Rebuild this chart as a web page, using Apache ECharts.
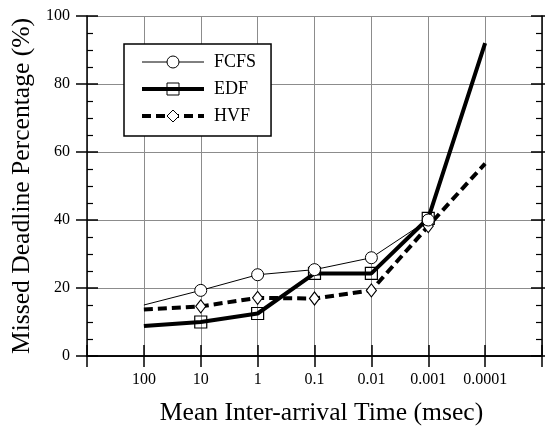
<!DOCTYPE html>
<html>
<head>
<meta charset="utf-8">
<script src="https://cdn.jsdelivr.net/npm/echarts@6/dist/echarts.min.js"></script>
<style>
  html, body { margin: 0; padding: 0; background: #fff; }
  #chart { width: 545px; height: 430px; }
</style>
</head>
<body>
<div id="chart"></div>
<script>
// x slots: empty padding slot at each end, like the original plot
const categories = ['', '100', '10', '1', '0.1', '0.01', '0.001', '0.0001', '']
const fcfs = [15, 19.3, 23.9, 25.4, 28.9, 40]
const edf = [8.8, 10, 12.5, 24.3, 24.3, 40.5, 92]
const hvf = [13.7, 14.6, 17.1, 16.9, 19.3, 38.2, 56.6]
const yTicks = [0, 20, 40, 60, 80, 100]

const FONT = 'Liberation Serif'
const GRID_GRAY = '#8c8c8c'

// first and last points are drawn without a marker
function toPoints(values) {
  return values.map((v, i) => ({
    value: [i + 1, v],
    symbol: i === 0 || i === 6 ? 'none' : undefined
  }))
}

const chart = echarts.init(document.getElementById('chart'))

const axisLine = { show: true, lineStyle: { color: '#000', width: 1.5 } }
const noLine = { show: false }

function xAxis(position, inside, main) {
  return {
    type: 'category',
    position,
    data: categories,
    boundaryGap: false,
    axisLine: main ? axisLine : noLine,
    axisTick: { show: true, inside, length: 11, interval: 0, lineStyle: { color: '#000', width: 1.5 } },
    axisLabel: main && position === 'bottom'
      ? { show: true, interval: 0, margin: 16, fontFamily: FONT, fontSize: 16, color: '#000' }
      : { show: false },
    splitLine: main && position === 'bottom'
      ? { show: true, interval: 0, lineStyle: { color: GRID_GRAY, width: 1 } }
      : { show: false },
    name: main && position === 'bottom' ? 'Mean Inter-arrival Time (msec)' : '',
    nameLocation: 'middle',
    nameGap: 44,
    nameTextStyle: { fontFamily: FONT, fontSize: 25.6, color: '#000', padding: [0, 0, 0, 14] }
  }
}

function yAxis(position, inside, main) {
  const isLeftMain = main && position === 'left'
  return {
    type: 'value',
    position,
    min: yTicks[0],
    max: yTicks[yTicks.length - 1],
    interval: 20,
    axisLine: main ? axisLine : noLine,
    axisTick: { show: true, inside, length: 11, lineStyle: { color: '#000', width: 1.5 } },
    minorTick: inside
      ? { show: true, splitNumber: 4, length: 6, lineStyle: { color: '#000', width: 1.2 } }
      : { show: false },
    axisLabel: isLeftMain
      ? { show: true, margin: 17, fontFamily: FONT, fontSize: 16, color: '#000' }
      : { show: false },
    splitLine: isLeftMain
      ? { show: true, lineStyle: { color: GRID_GRAY, width: 1 } }
      : { show: false },
    name: isLeftMain ? 'Missed Deadline Percentage (%)' : '',
    nameLocation: 'middle',
    nameGap: 50,
    nameTextStyle: { fontFamily: FONT, fontSize: 25.6, color: '#000' }
  }
}

const option = {
  animation: false,
  backgroundColor: '#fff',
  grid: { left: 87, right: 3, top: 16, bottom: 74, outerBoundsMode: 'none' },
  legend: {
    orient: 'vertical',
    left: 124,
    top: 44,
    backgroundColor: '#fff',
    borderColor: '#000',
    borderWidth: 1.5,
    borderRadius: 0,
    padding: [8, 15, 10, 16],
    itemWidth: 62,
    itemHeight: 15,
    itemGap: 7,
    itemStyle: { borderWidth: 1 },
    textStyle: { fontFamily: FONT, fontSize: 18, color: '#000', lineHeight: 20, padding: [0, 0, 0, 5] },
    data: [
      { name: 'FCFS', lineStyle: { width: 1 } },
      { name: 'EDF', lineStyle: { width: 4 } },
      { name: 'HVF', lineStyle: { width: 4, type: [9, 5] } }
    ]
  },
  xAxis: [
    xAxis('bottom', false, true),
    xAxis('bottom', true, false),
    xAxis('top', true, true),
    xAxis('top', false, false)
  ],
  yAxis: [
    yAxis('left', true, true),
    yAxis('left', false, false),
    yAxis('right', true, true),
    yAxis('right', false, false)
  ],
  series: [
    {
      name: 'FCFS',
      type: 'line',
      symbol: 'circle',
      symbolSize: 12,
      lineStyle: { color: '#000', width: 1 },
      itemStyle: { color: '#fff', borderColor: '#000', borderWidth: 1 },
      data: toPoints(fcfs),
      z: 4
    },
    {
      name: 'EDF',
      type: 'line',
      symbol: 'rect',
      symbolSize: 12,
      lineStyle: { color: '#000', width: 4 },
      itemStyle: { color: 'rgba(255,255,255,0)', borderColor: '#000', borderWidth: 1.2 },
      data: toPoints(edf),
      z: 3
    },
    {
      name: 'HVF',
      type: 'line',
      symbol: 'diamond',
      symbolSize: [10, 13],
      lineStyle: { color: '#000', width: 4, type: [9, 5] },
      itemStyle: { color: '#fff', borderColor: '#000', borderWidth: 1.2 },
      data: toPoints(hvf),
      z: 2
    }
  ]
}

chart.setOption(option)
</script>
</body>
</html>
